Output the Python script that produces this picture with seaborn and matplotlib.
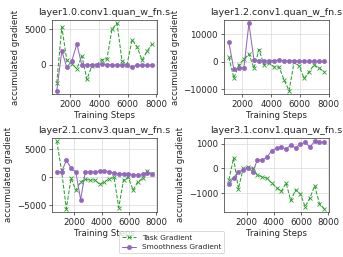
import numpy as np
import pandas as pd
import matplotlib
matplotlib.use("Agg")
import matplotlib.pyplot as plt
import seaborn as sns

sns.set_style("ticks")

titles = ["layer1.0.conv1.quan_w_fn.s", "layer1.2.conv1.quan_w_fn.s",
          "layer2.1.conv3.quan_w_fn.s", "layer3.1.conv1.quan_w_fn.s"]

steps_a = [1050, 1400, 1750, 2100, 2450, 2800, 3150, 3500, 3850, 4200,
           4550, 4900, 5250, 5600, 5950, 6300, 6650, 7000, 7350, 7700]
steps_b = [700] + steps_a

task_1 = [-2600, 5300, 600, 100, -600, 1200, -2100, -200, 0, 700,
          800, 5000, 5800, 500, 0, 3500, 2500, 600, 1900, 2900]
smooth_1 = [-3700, 1900, -400, 500, 2900, -100, -50, -50, -50, 100,
            0, -50, -100, -50, -50, -350, -100, -100, -100, -100]

task_2 = [1700, -5900, -1000, 1000, 2900, -2300, 4500, -1100, -500, -1800,
          -1900, -6500, -10500, 0, -1500, -6000, -3500, -1100, -2300, -3500]
smooth_2 = [7100, -2700, -2300, -2100, 14000, 700, 400, 400, 500, 500,
            600, 500, 400, 300, 300, 300, 300, 200, 200, 200]

task_3 = [6400, 1200, -5600, -200, -2300, -800, -400, -500, -500, -1300,
          -800, -300, 0, -5400, -500, 0, -2300, -800, -200, 1100, 500]
smooth_3 = [900, 900, 3000, 1600, 900, -4000, 1000, 1000, 1000, 1050,
            1100, 1000, 700, 650, 650, 600, 450, 400, 500, 700, 650]

task_4 = [-460, 420, -820, 0, 65, 0, -265, -330, -400, -590,
          -770, -920, -590, -1290, -860, -1030, -1540, -1190, -690, -1420, -1620]
smooth_4 = [-620, -370, -130, -65, 40, -130, 355, 330, 460, 725,
            820, 860, 790, 950, 830, 990, 1055, 860, 1100, 1080, 1055]

panels = [(steps_a, task_1, smooth_1), (steps_a, task_2, smooth_2),
          (steps_b, task_3, smooth_3), (steps_b, task_4, smooth_4)]

green = "#2ca02c"
purple = "#9467bd"

W = 5.5
fig, axes = plt.subplots(2, 2, figsize=(W, W * 257 / 343), dpi=343 / W)
fig.subplots_adjust(left=52 / 343, right=329 / 343, top=1 - 20 / 257,
                    bottom=1 - 212 / 257, wspace=0.64, hspace=0.59)
for ax, title, (steps, task, smooth) in zip(axes.flat, titles, panels):
    df = pd.DataFrame({"step": steps, "task": task, "smooth": smooth})
    sns.lineplot(data=df, x="step", y="task", ax=ax, color=green,
                 linestyle="--", linewidth=1.2, marker="x",
                 markeredgecolor=green, markeredgewidth=1.0, markersize=5,
                 label="Task Gradient")
    sns.lineplot(data=df, x="step", y="smooth", ax=ax, color=purple,
                 linestyle="-", linewidth=1.2, marker="o",
                 markeredgecolor=purple, markersize=4.8,
                 label="Smoothness Gradient")
    if ax.get_legend() is not None:
        ax.get_legend().remove()
    ax.set_title(title, fontsize=11)
    ax.set_xlabel("Training Steps", fontsize=10, labelpad=2)
    ax.set_ylabel("accumulated gradient", fontsize=10)
    ax.set_xticks([2000, 4000, 6000, 8000])
    ax.tick_params(labelsize=10)
    ax.grid(True, color="#d9d9d9", linewidth=0.8)
    for s in ax.spines.values():
        s.set_visible(True)
        s.set_color("#333333")

handles, labels = axes[0, 0].get_legend_handles_labels()
fig.legend(handles, labels, loc="lower center", fontsize=8.5)
fig.savefig("out.png", dpi=343 / W)
